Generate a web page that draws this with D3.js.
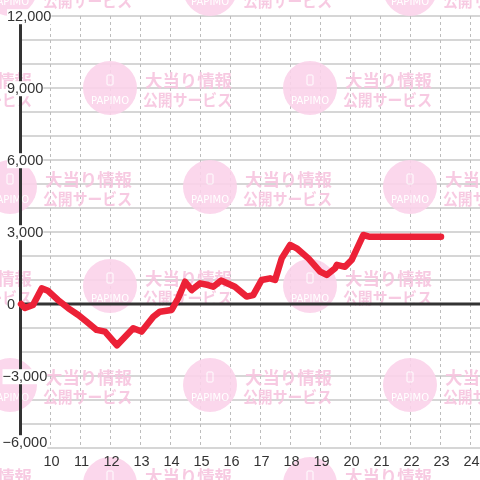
<!DOCTYPE html>
<html><head><meta charset="utf-8">
<script src="https://cdn.jsdelivr.net/npm/d3@7"></script>
<style>html,body{margin:0;padding:0;background:#fff;}svg{display:block;}</style>
</head><body>
<script>
// ---- data ----
const hours = [9.00, 9.13, 9.40, 9.69, 9.90, 10.23, 10.58, 10.91, 11.19, 11.52, 11.80, 12.20, 12.74, 13.02, 13.41, 13.63, 14.02, 14.24, 14.47, 14.69, 14.97, 15.24, 15.41, 15.67, 16.13, 16.52, 16.74, 17.02, 17.30, 17.47, 17.69, 17.97, 18.19, 18.58, 18.97, 19.19, 19.47, 19.53, 19.80, 20.02, 20.41, 20.63, 23.00];
const values = [0, -170, -40, 650, 550, 170, -180, -460, -740, -1080, -1150, -1720, -1010, -1150, -530, -320, -250, 240, 930, 580, 860, 790, 720, 980, 720, 310, 370, 1000, 1070, 1000, 1900, 2460, 2320, 1900, 1350, 1210, 1490, 1630, 1550, 1830, 2875, 2800, 2800];
const yTicks = [12000, 9000, 6000, 3000, 0, -3000, -6000];
const yGrid = [12000, 11000, 10000, 9000, 8000, 7000, 6000, 5000, 4000, 3000, 2000, 1000, -1000, -2000, -3000, -4000, -5000, -6000];
const xTicks = [10, 11, 12, 13, 14, 15, 16, 17, 18, 19, 20, 21, 22, 23, 24];
const wmLine1 = "大当り情報";
const wmLine2 = "公開サービス";
const wmBrand = "PAPIMO";

const W = 480, H = 480;
const x = d3.scaleLinear().domain([9, 24.3]).range([21, 480]);
const y = d3.scaleLinear().domain([-6000, 12000]).range([448, 16]);
const svg = d3.select("body").append("svg").attr("width", W).attr("height", H);
svg.append("rect").attr("width", W).attr("height", H).attr("fill", "#fff");

// horizontal grid
svg.append("g").selectAll("line").data(yGrid).join("line")
  .attr("x1", x(9)).attr("x2", W).attr("y1", d => y(d)).attr("y2", d => y(d))
  .attr("stroke", "#c8c8c8").attr("stroke-width", 1.3);
// vertical dashed grid
svg.append("g").selectAll("line").data(xTicks).join("line")
  .attr("x1", d => x(d) - 0.5).attr("x2", d => x(d) - 0.5).attr("y1", y(12000)).attr("y2", y(-6000))
  .attr("stroke", "#bdbdbd").attr("stroke-width", 1).attr("stroke-dasharray", "3,3");

// watermark
const wm = svg.append("g").attr("opacity", 0.9);
for (let j = 0; j < 6; j++) {
  const cy = -11 + j * 99;
  for (let k = -1; k < 5; k++) {
    if ((j + k) % 2 !== 0) continue;
    const cx = 10 + k * 100;
    const g = wm.append("g").attr("transform", `translate(${cx},${cy})`);
    g.append("circle").attr("r", 27).attr("fill", "#fbd3ea");
    g.append("rect").attr("x", -3).attr("y", -13).attr("width", 6).attr("height", 10).attr("rx", 1)
      .attr("fill", "none").attr("stroke", "#fff").attr("stroke-width", 1);
    g.append("text").attr("x", 0).attr("y", 15.5).attr("text-anchor", "middle")
      .attr("font-family", "DejaVu Sans, sans-serif").attr("font-size", 10)
      .attr("textLength", 38).attr("lengthAdjust", "spacing")
      .attr("fill", "#fff").text(wmBrand);
    g.append("text").attr("x", 35).attr("y", -1)
      .attr("font-family", "Noto Sans CJK JP").attr("font-weight", "bold").attr("font-size", 17)
      .attr("textLength", 87).attr("lengthAdjust", "spacingAndGlyphs")
      .attr("fill", "#f7c5df").text(wmLine1);
    g.append("text").attr("x", 33).attr("y", 18)
      .attr("font-family", "Noto Sans CJK JP").attr("font-weight", "bold").attr("font-size", 15.5)
      .attr("textLength", 89).attr("lengthAdjust", "spacingAndGlyphs")
      .attr("fill", "#f7c5df").text(wmLine2);
  }
}

// zero line
svg.append("line").attr("x1", x(9)).attr("x2", W).attr("y1", y(0)).attr("y2", y(0))
  .attr("stroke", "#333").attr("stroke-width", 3);
// y axis line
svg.append("line").attr("x1", x(9) - 0.5).attr("x2", x(9) - 0.5).attr("y1", y(12000)).attr("y2", y(-6000))
  .attr("stroke", "#333").attr("stroke-width", 3);

// y labels with white background
const yl = svg.append("g");
yTicks.forEach(v => {
  const ty = Math.min(y(v), 442);
  const t = yl.append("text").attr("x", v < 0 ? 2.5 : 7).attr("y", ty).attr("dy", "0.36em")
    .attr("font-family", "Liberation Sans, Arial, sans-serif").attr("font-size", 14.5)
    .attr("fill", "#333").text(d3.format(",")(v));
  const b = t.node().getBBox();
  yl.insert("rect", "text").attr("x", b.x).attr("y", b.y + 1).attr("width", b.width).attr("height", b.height - 1).attr("fill", "#fff");
});
yl.selectAll("text").raise();

// x labels
svg.append("g").selectAll("text").data(xTicks).join("text")
  .attr("x", d => x(d) + 0.5).attr("y", 461).attr("dy", "0.36em").attr("text-anchor", "middle")
  .attr("font-family", "Liberation Sans, Arial, sans-serif").attr("font-size", 14.5)
  .attr("fill", "#333").text(d => d);

// data line
const pts = hours.map((h, i) => [h, values[i]]);
svg.append("path").datum(pts)
  .attr("d", d3.line().x(d => x(d[0])).y(d => y(d[1])))
  .attr("fill", "none").attr("stroke", "#ec2137").attr("stroke-width", 6.5)
  .attr("stroke-linejoin", "round").attr("stroke-linecap", "round");
</script>
</body></html>
